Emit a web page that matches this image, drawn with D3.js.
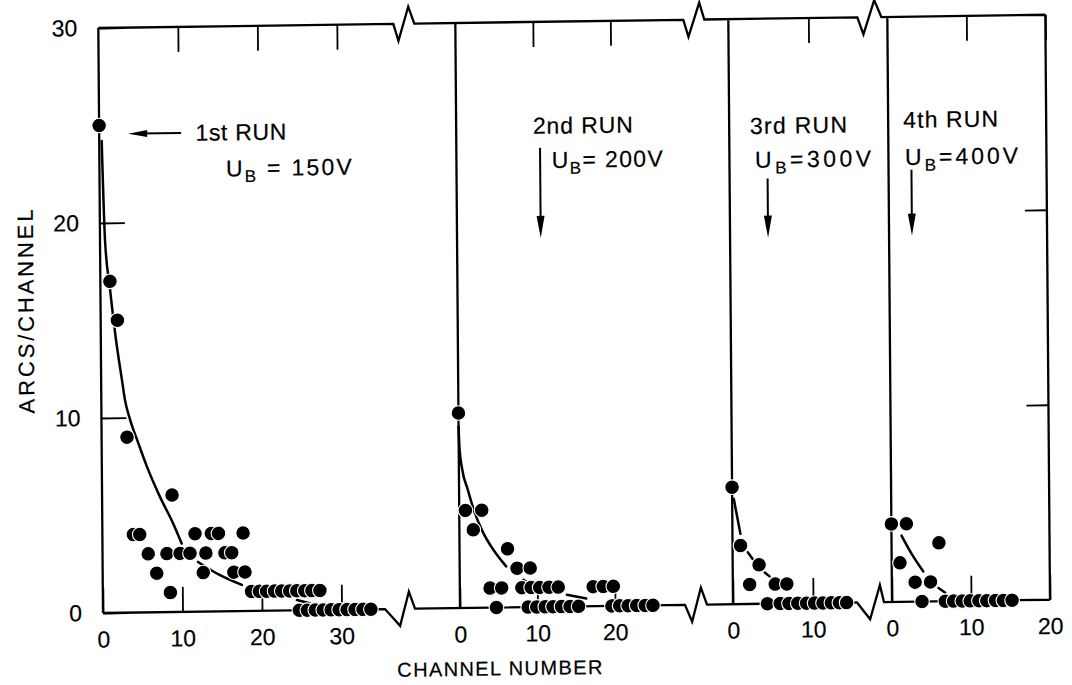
<!DOCTYPE html>
<html><head><meta charset="utf-8">
<script src="https://cdn.jsdelivr.net/npm/d3@7"></script>
<style>
body{margin:0;background:#fff}
text{font-family:"Liberation Sans",Arial,sans-serif;fill:#000;stroke:#000;stroke-width:0.2px}
</style>
</head><body>
<svg id="c" width="1072" height="685"></svg>
<script>
// ---------- data ----------
const yTicks = [0, 10, 20, 30];
const p1Ticks = [0, 10, 20, 30];
const p2Ticks = [0, 10, 20];
const p3Ticks = [0, 10];
const p4Ticks = [0, 10, 20];

const runLabels = ["1st RUN", "2nd RUN", "3rd RUN", "4th RUN"];
const voltLabels = [" = 150V", "= 200V", "=300V", "=400V"];

// 1st run (U_B = 150 V)
const run1X = [0, 1.2, 2.1, 3.2, 3.9, 4.7, 5.75, 6.8, 8.1, 8.5, 8.8, 9.75, 11.0, 11.65, 12.65, 13.0, 13.7, 14.6, 15.4, 16.25, 16.5, 17.9, 17.7,
  18.7, 19.7, 20.6, 21.6, 22.5, 23.5, 24.4, 25.4, 26.3, 27.3,
  24.7, 25.7, 26.7, 27.7, 28.7, 29.7, 30.7, 31.7, 32.7, 33.7];
const run1Y = [25, 17, 15, 9, 4, 4, 3, 2, 3, 1, 6, 3, 3, 4, 2, 3, 4, 4, 3, 3, 2, 2, 4,
  1, 1, 1, 1, 1, 1, 1, 1, 1, 1,
  0, 0, 0, 0, 0, 0, 0, 0, 0, 0];
// 2nd run (U_B = 200 V)
const run2X = [0, 0.8, 2.9, 1.8, 6.2, 7.4, 9.1, 3.9, 5.4, 8.0, 9.2, 10.3, 11.5, 12.7, 17.2, 18.5, 19.8,
  4.7, 8.8, 9.9, 11.0, 12.0, 13.1, 14.2, 15.3, 19.6, 20.6, 21.7, 22.8, 23.9, 24.9];
const run2Y = [10, 5, 5, 4, 3, 2, 2, 1, 1, 1, 1, 1, 1, 1, 1, 1, 1,
  0, 0, 0, 0, 0, 0, 0, 0, 0, 0, 0, 0, 0, 0];
// 3rd run (U_B = 300 V)
const run3X = [0, 1.0, 3.3, 2.1, 5.3, 6.75, 4.3, 5.9, 7.0, 8.1, 9.2, 10.2, 11.25, 12.3, 13.3, 14.2];
const run3Y = [6, 3, 2, 1, 1, 1, 0, 0, 0, 0, 0, 0, 0, 0, 0, 0];
// 4th run (U_B = 400 V)
const run4X = [0, 1.9, 1.05, 6.0, 2.95, 4.9, 3.8, 6.75, 7.8, 8.9, 9.9, 11.0, 12.0, 13.1, 14.1, 15.2];
const run4Y = [4, 4, 2, 3, 1, 1, 0, 0, 0, 0, 0, 0, 0, 0, 0, 0];

// hand-drawn fitted curves (pieces of the broken line)
const fit1 = [
  [[0.31, 24.2], [0.63, 19.1], [1.21, 16.6], [1.91, 14.0], [2.63, 11.9], [2.98, 10.9], [3.6, 9.9], [4.6, 8.7], [5.65, 7.5], [7.3, 5.9], [8.9, 4.55], [9.97, 3.5]],
  [[12.0, 2.55], [14.7, 1.87], [17.5, 1.34]],
  [[24.4, 0.53], [26.0, 0.35]]
];
const fit2 = [
  [[0, 9.3], [0.1, 8.2], [0.43, 7.1], [1.1, 6.1], [1.9, 5.0], [3.0, 3.9], [4.3, 3.0], [6.0, 2.1]],
  [[8.2, 1.4], [9.2, 1.15]],
  [[13.8, 0.6], [16.3, 0.4]]
];
const fit3 = [
  [[0.2, 5.4], [1.0, 3.6]],
  [[1.9, 2.65], [2.5, 2.3]],
  [[4.0, 1.6], [4.6, 1.4]]
];
const fit4 = [
  [[1.27, 3.4], [2.5, 2.48], [4.0, 1.54]],
  [[5.9, 0.68], [6.75, 0.43]]
];

// ---------- drawing ----------
const svg = d3.select('#c');
svg.append('rect').attr('width', 1072).attr('height', 685).attr('fill', '#fff');
// slight skew of the scanned original
const g = svg.append('g').attr('transform', 'matrix(1,-0.014,0.008,1,-4.904,1.442)');

const y = d3.scaleLinear().domain([0, 30]).range([613, 28]);
const TOP = y(30), BOT = y(0);
const FONT = 23;

const panels = [
  { x: d3.scaleLinear().domain([0, 30]).range([103, 341.5]), xs: run1X, ys: run1Y, fit: fit1, ticks: p1Ticks, btick: 25,
    label: { x: 12.1, y: 24.15, w: 91 }, volt: { x: 15.9, y: 22.3, w: 126 }, arrow: null },
  { x: d3.scaleLinear().domain([0, 20]).range([460, 615]), xs: run2X, ys: run2Y, fit: fit2, ticks: p2Ticks, btick: 20,
    label: { x: 9.9, y: 24.26, w: 100 }, volt: { x: 12.3, y: 22.5, w: 111 }, arrow: { x: 10.8, y0: 23.54, y1: 18.92 } },
  { x: d3.scaleLinear().domain([0, 10]).range([733, 813]), xs: run3X, ys: run3Y, fit: fit3, ticks: p3Ticks, btick: 25,
    label: { x: 2.6, y: 24.1, w: 97 }, volt: { x: 3.2, y: 22.36, w: 116 }, arrow: { x: 4.75, y0: 21.8, y1: 18.77 } },
  { x: d3.scaleLinear().domain([0, 20]).range([892, 1050]), xs: run4X, ys: run4Y, fit: fit4, ticks: p4Ticks, btick: 25,
    label: { x: 1.9, y: 24.3, w: 95 }, volt: { x: 2.1, y: 22.4, w: 113 }, arrow: { x: 2.9, y0: 22.15, y1: 18.77 } }
];

function fitWidth(sel, target) {
  const n = sel.text().length;
  const w = sel.node().getComputedTextLength();
  sel.attr('letter-spacing', ((target - w) / (n - 1)).toFixed(2));
}

// frame with axis breaks
function zig(p, xs, yb) {
  p.lineTo(xs[0], yb); p.lineTo(xs[1], yb + 17); p.lineTo(xs[2], yb - 17); p.lineTo(xs[3], yb);
}
const topP = d3.path();
topP.moveTo(103, TOP);
zig(topP, [398, 403, 413, 419], TOP);
zig(topP, [688, 693, 704, 709], TOP);
zig(topP, [862, 868, 879, 886], TOP);
topP.lineTo(1050, TOP);
const botP = d3.path();
botP.moveTo(103, BOT);
zig(botP, [385, 400, 409, 415], BOT);
zig(botP, [685, 692, 701, 707], BOT);
zig(botP, [857, 870, 880, 884], BOT);
botP.lineTo(1050, BOT);
panels.forEach(p => { topP.moveTo(p.x.range()[0], TOP); topP.lineTo(p.x.range()[0], BOT); });
topP.moveTo(1050, TOP); topP.lineTo(1050, BOT);
g.append('path').attr('d', topP.toString() + botP.toString()).attr('fill', 'none')
  .attr('stroke', '#000').attr('stroke-width', 2.3).attr('stroke-linejoin', 'miter');

function styleAxis(ax) {
  ax.select('.domain').remove();
  ax.attr('font-family', '"Liberation Sans",Arial,sans-serif').attr('font-size', FONT);
  ax.selectAll('line').attr('stroke', '#000').attr('stroke-width', 1.8);
  ax.selectAll('text').attr('fill', '#000');
}

// y axis (panel 1)
styleAxis(g.append('g').attr('transform', `translate(103,0)`)
  .call(d3.axisLeft(y).tickValues(yTicks).tickSizeInner(-25).tickSizeOuter(0).tickPadding(21)));
// right edge ticks (panel 4)
styleAxis(g.append('g').attr('transform', `translate(1050,0)`)
  .call(d3.axisRight(y).tickValues([10, 20]).tickSizeInner(-22).tickSizeOuter(0).tickFormat('')));

panels.forEach((p, i) => {
  styleAxis(g.append('g').attr('transform', `translate(0,${BOT})`)
    .call(d3.axisBottom(p.x).tickValues(p.ticks).tickSizeInner(-p.btick).tickSizeOuter(0).tickPadding(18)));
  styleAxis(g.append('g').attr('transform', `translate(0,${TOP})`)
    .call(d3.axisTop(p.x).tickValues(p.ticks.filter(t => t > 0)).tickSizeInner(-25).tickSizeOuter(0).tickFormat('')));

  // fitted curve pieces
  const line = d3.line().x(d => p.x(d[0])).y(d => y(d[1])).curve(d3.curveMonotoneX);
  g.selectAll(null).data(p.fit).enter().append('path')
    .attr('d', line).attr('fill', 'none').attr('stroke', '#000').attr('stroke-width', 2.5).attr('stroke-linecap', 'round');

  // points
  const pts = p.xs.map((v, k) => ({ x: v, y: p.ys[k] })).sort((a, b) => a.x - b.x);
  g.selectAll(null).data(pts).enter().append('circle')
    .attr('cx', d => p.x(d.x)).attr('cy', d => y(d.y)).attr('r', 7.3)
    .attr('fill', '#000').attr('stroke', '#fff').attr('stroke-width', 1.1);

  // annotations
  const t = g.append('text').attr('x', p.x(p.label.x)).attr('y', y(p.label.y))
    .attr('font-size', FONT).text(runLabels[i]);
  fitWidth(t, p.label.w);
  const u = g.append('text').attr('x', p.x(p.volt.x)).attr('y', y(p.volt.y)).attr('font-size', FONT);
  u.append('tspan').text('U');
  u.append('tspan').attr('font-size', 17).attr('dy', 6).text('B');
  u.append('tspan').attr('dy', -6).text(voltLabels[i]);
  fitWidth(u, p.volt.w);

  if (p.arrow) {
    const ax = p.x(p.arrow.x), a0 = y(p.arrow.y0), a1 = y(p.arrow.y1);
    g.append('line').attr('x1', ax).attr('x2', ax).attr('y1', a0).attr('y2', a1 - 10)
      .attr('stroke', '#000').attr('stroke-width', 2);
    g.append('path').attr('d', `M${ax - 4},${a1 - 22}L${ax + 4},${a1 - 22}L${ax},${a1}Z`).attr('fill', '#000');
  }
});

// 1st run horizontal arrow
{
  const p = panels[0];
  const ay = y(24.56), xa = p.x(3.65), xb = p.x(10.3);
  g.append('line').attr('x1', xa + 10).attr('x2', xb).attr('y1', ay).attr('y2', ay).attr('stroke', '#000').attr('stroke-width', 2);
  g.append('path').attr('d', `M${xa},${ay}L${xa + 19},${ay - 3.5}L${xa + 19},${ay + 3.5}Z`).attr('fill', '#000');
}

// axis titles
const xt = g.append('text').attr('x', 500).attr('y', 681).attr('text-anchor', 'middle')
  .attr('font-size', 20).text('CHANNEL NUMBER');
fitWidth(xt, 205);
const yt = g.append('text').attr('transform', 'translate(36,309) rotate(-90)').attr('text-anchor', 'middle')
  .attr('font-size', 22).text('ARCS/CHANNEL');
fitWidth(yt, 204);
</script>
</body></html>
